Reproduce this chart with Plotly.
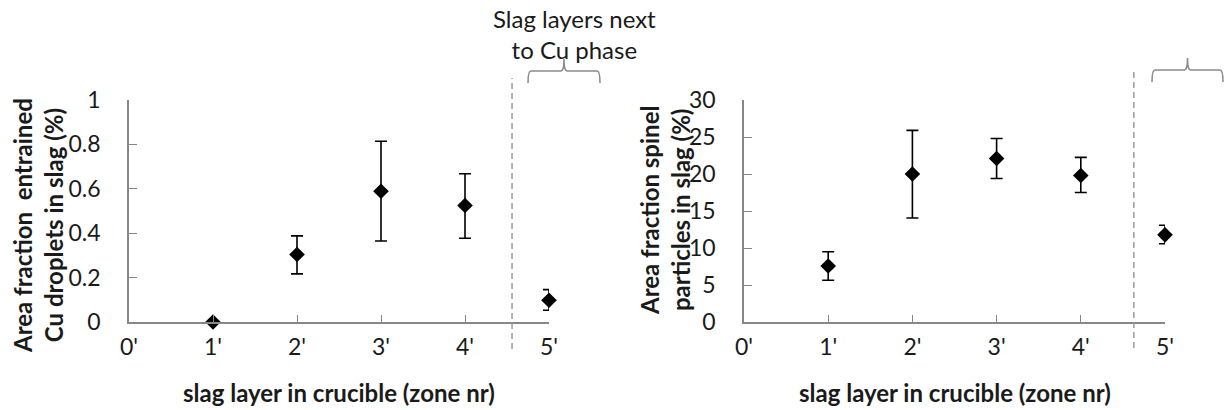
import plotly.graph_objects as go

# ---- data ----
zone_labels = ["0'", "1'", "2'", "3'", "4'", "5'"]
zones = [1, 2, 3, 4, 5]

cu_values = [0.0, 0.304, 0.589, 0.525, 0.098]
cu_err_plus = [0.0, 0.084, 0.225, 0.143, 0.048]
cu_err_minus = [0.0, 0.087, 0.224, 0.148, 0.045]

sp_values = [7.57, 20.0, 22.1, 19.8, 11.78]
sp_err_plus = [1.92, 5.9, 2.7, 2.45, 1.29]
sp_err_minus = [1.93, 5.94, 2.7, 2.3, 1.21]

cu_ticks = [0, 0.2, 0.4, 0.6, 0.8, 1]
cu_ticktext = ["0", "0.2", "0.4", "0.6", "0.8", "1"]
sp_ticks = [0, 5, 10, 15, 20, 25, 30]

divider_left = 4.56
divider_right = 4.63

W, H = 1225, 410
FONT = "Lato"
TXT = "#1a1a1a"
AX = "#878787"
FS = 24
FT = 23


def X(px):
    return px / W


def Y(py):
    return 1 - py / H


fig = go.Figure()

common_marker = dict(symbol="diamond", size=12, color="black")

fig.add_trace(go.Scatter(
    x=zones, y=cu_values, mode="markers", marker=common_marker,
    error_y=dict(type="data", symmetric=False, array=cu_err_plus,
                 arrayminus=cu_err_minus, color="black", thickness=1.6, width=6),
    xaxis="x", yaxis="y", cliponaxis=False, showlegend=False, hoverinfo="skip"))

fig.add_trace(go.Scatter(
    x=zones, y=sp_values, mode="markers", marker=common_marker,
    error_y=dict(type="data", symmetric=False, array=sp_err_plus,
                 arrayminus=sp_err_minus, color="black", thickness=1.6, width=6),
    xaxis="x2", yaxis="y2", cliponaxis=False, showlegend=False, hoverinfo="skip"))

xcommon = dict(range=[0, 5], tickvals=list(range(6)), ticktext=zone_labels,
               showline=True, linecolor=AX, linewidth=1.6, ticks="inside",
               ticklen=7, tickwidth=1.2, tickcolor=AX, showgrid=False,
               zeroline=False, ticklabelstandoff=4, automargin=False,
               tickfont=dict(family=FONT, size=FT, color=TXT))
ycommon = dict(showline=True, linecolor=AX, linewidth=1.6, ticks="inside",
               ticklen=8, tickwidth=1.2, tickcolor=AX, showgrid=False,
               zeroline=False, ticklabelstandoff=22, automargin=False,
               tickfont=dict(family=FONT, size=FT, color=TXT))

ydom = [Y(322), Y(100)]
fig.update_layout(
    width=W, height=H, autosize=False,
    margin=dict(l=0, r=0, t=0, b=0, pad=0),
    paper_bgcolor="white", plot_bgcolor="white",
    xaxis=dict(domain=[X(129), X(549)], anchor="y", **xcommon),
    yaxis=dict(domain=ydom, anchor="x", range=[0, 1], tickvals=cu_ticks,
               ticktext=cu_ticktext, **ycommon),
    xaxis2=dict(domain=[X(744), X(1165)], anchor="y2", **xcommon),
    yaxis2=dict(domain=ydom, anchor="x2", range=[0, 30], tickvals=sp_ticks,
                **ycommon),
)

# dashed dividers
dash_line = dict(color="#9a9a9a", width=1.5, dash="6px,4px")
fig.add_shape(type="line", xref="x", yref="paper", x0=divider_left, x1=divider_left,
              y0=Y(349), y1=Y(78), line=dash_line)
fig.add_shape(type="line", xref="x2", yref="paper", x0=divider_right, x1=divider_right,
              y0=Y(348), y1=Y(72), line=dash_line)


def brace(xl, xr, ybar, yleg, ytip):
    xc = (xl + xr) / 2
    pts = [
        f"M {X(xl)},{Y(yleg)}",
        f"Q {X(xl)},{Y(ybar)} {X(xl + 3)},{Y(ybar)}",
        f"L {X(xc - 3)},{Y(ybar)}",
        f"Q {X(xc)},{Y(ybar)} {X(xc)},{Y(ytip)}",
        f"Q {X(xc)},{Y(ybar)} {X(xc + 3)},{Y(ybar)}",
        f"L {X(xr - 3)},{Y(ybar)}",
        f"Q {X(xr)},{Y(ybar)} {X(xr)},{Y(yleg)}",
    ]
    return " ".join(pts)


fig.add_shape(type="path", xref="paper", yref="paper",
              path=brace(528, 600, 71, 83, 59), line=dict(color="#8a8a8a", width=1.6))
fig.add_shape(type="path", xref="paper", yref="paper",
              path=brace(1152, 1223, 70, 82, 58), line=dict(color="#8a8a8a", width=1.6))

ann = dict(xref="paper", yref="paper", showarrow=False,
           xanchor="center", yanchor="middle")

fig.add_annotation(x=X(574), y=Y(34), text="Slag layers next<br>to Cu phase",
                   font=dict(family=FONT, size=FS, color=TXT), align="center", **ann)

# axis titles
for xc in (339, 955):
    fig.add_annotation(x=X(xc), y=Y(392),
                       text="<b>slag layer in crucible (zone nr)</b>",
                       font=dict(family=FONT, size=FS, color=TXT), **ann)

fig.add_annotation(x=X(38), y=Y(226), textangle=-90,
                   text="<b>Area fraction \u00a0entrained<br>Cu droplets in slag (%)</b>",
                   font=dict(family=FONT, size=FS, color=TXT), **ann)
fig.add_annotation(x=X(665), y=Y(211), textangle=-90,
                   text="<b>Area fraction spinel<br>particles in slag (%)</b>",
                   font=dict(family=FONT, size=FS, color=TXT), **ann)

fig.write_html("out.html", config={"displayModeBar": False},
               post_script="document.body.style.margin='0px';"
                           "document.body.style.overflow='hidden';")
